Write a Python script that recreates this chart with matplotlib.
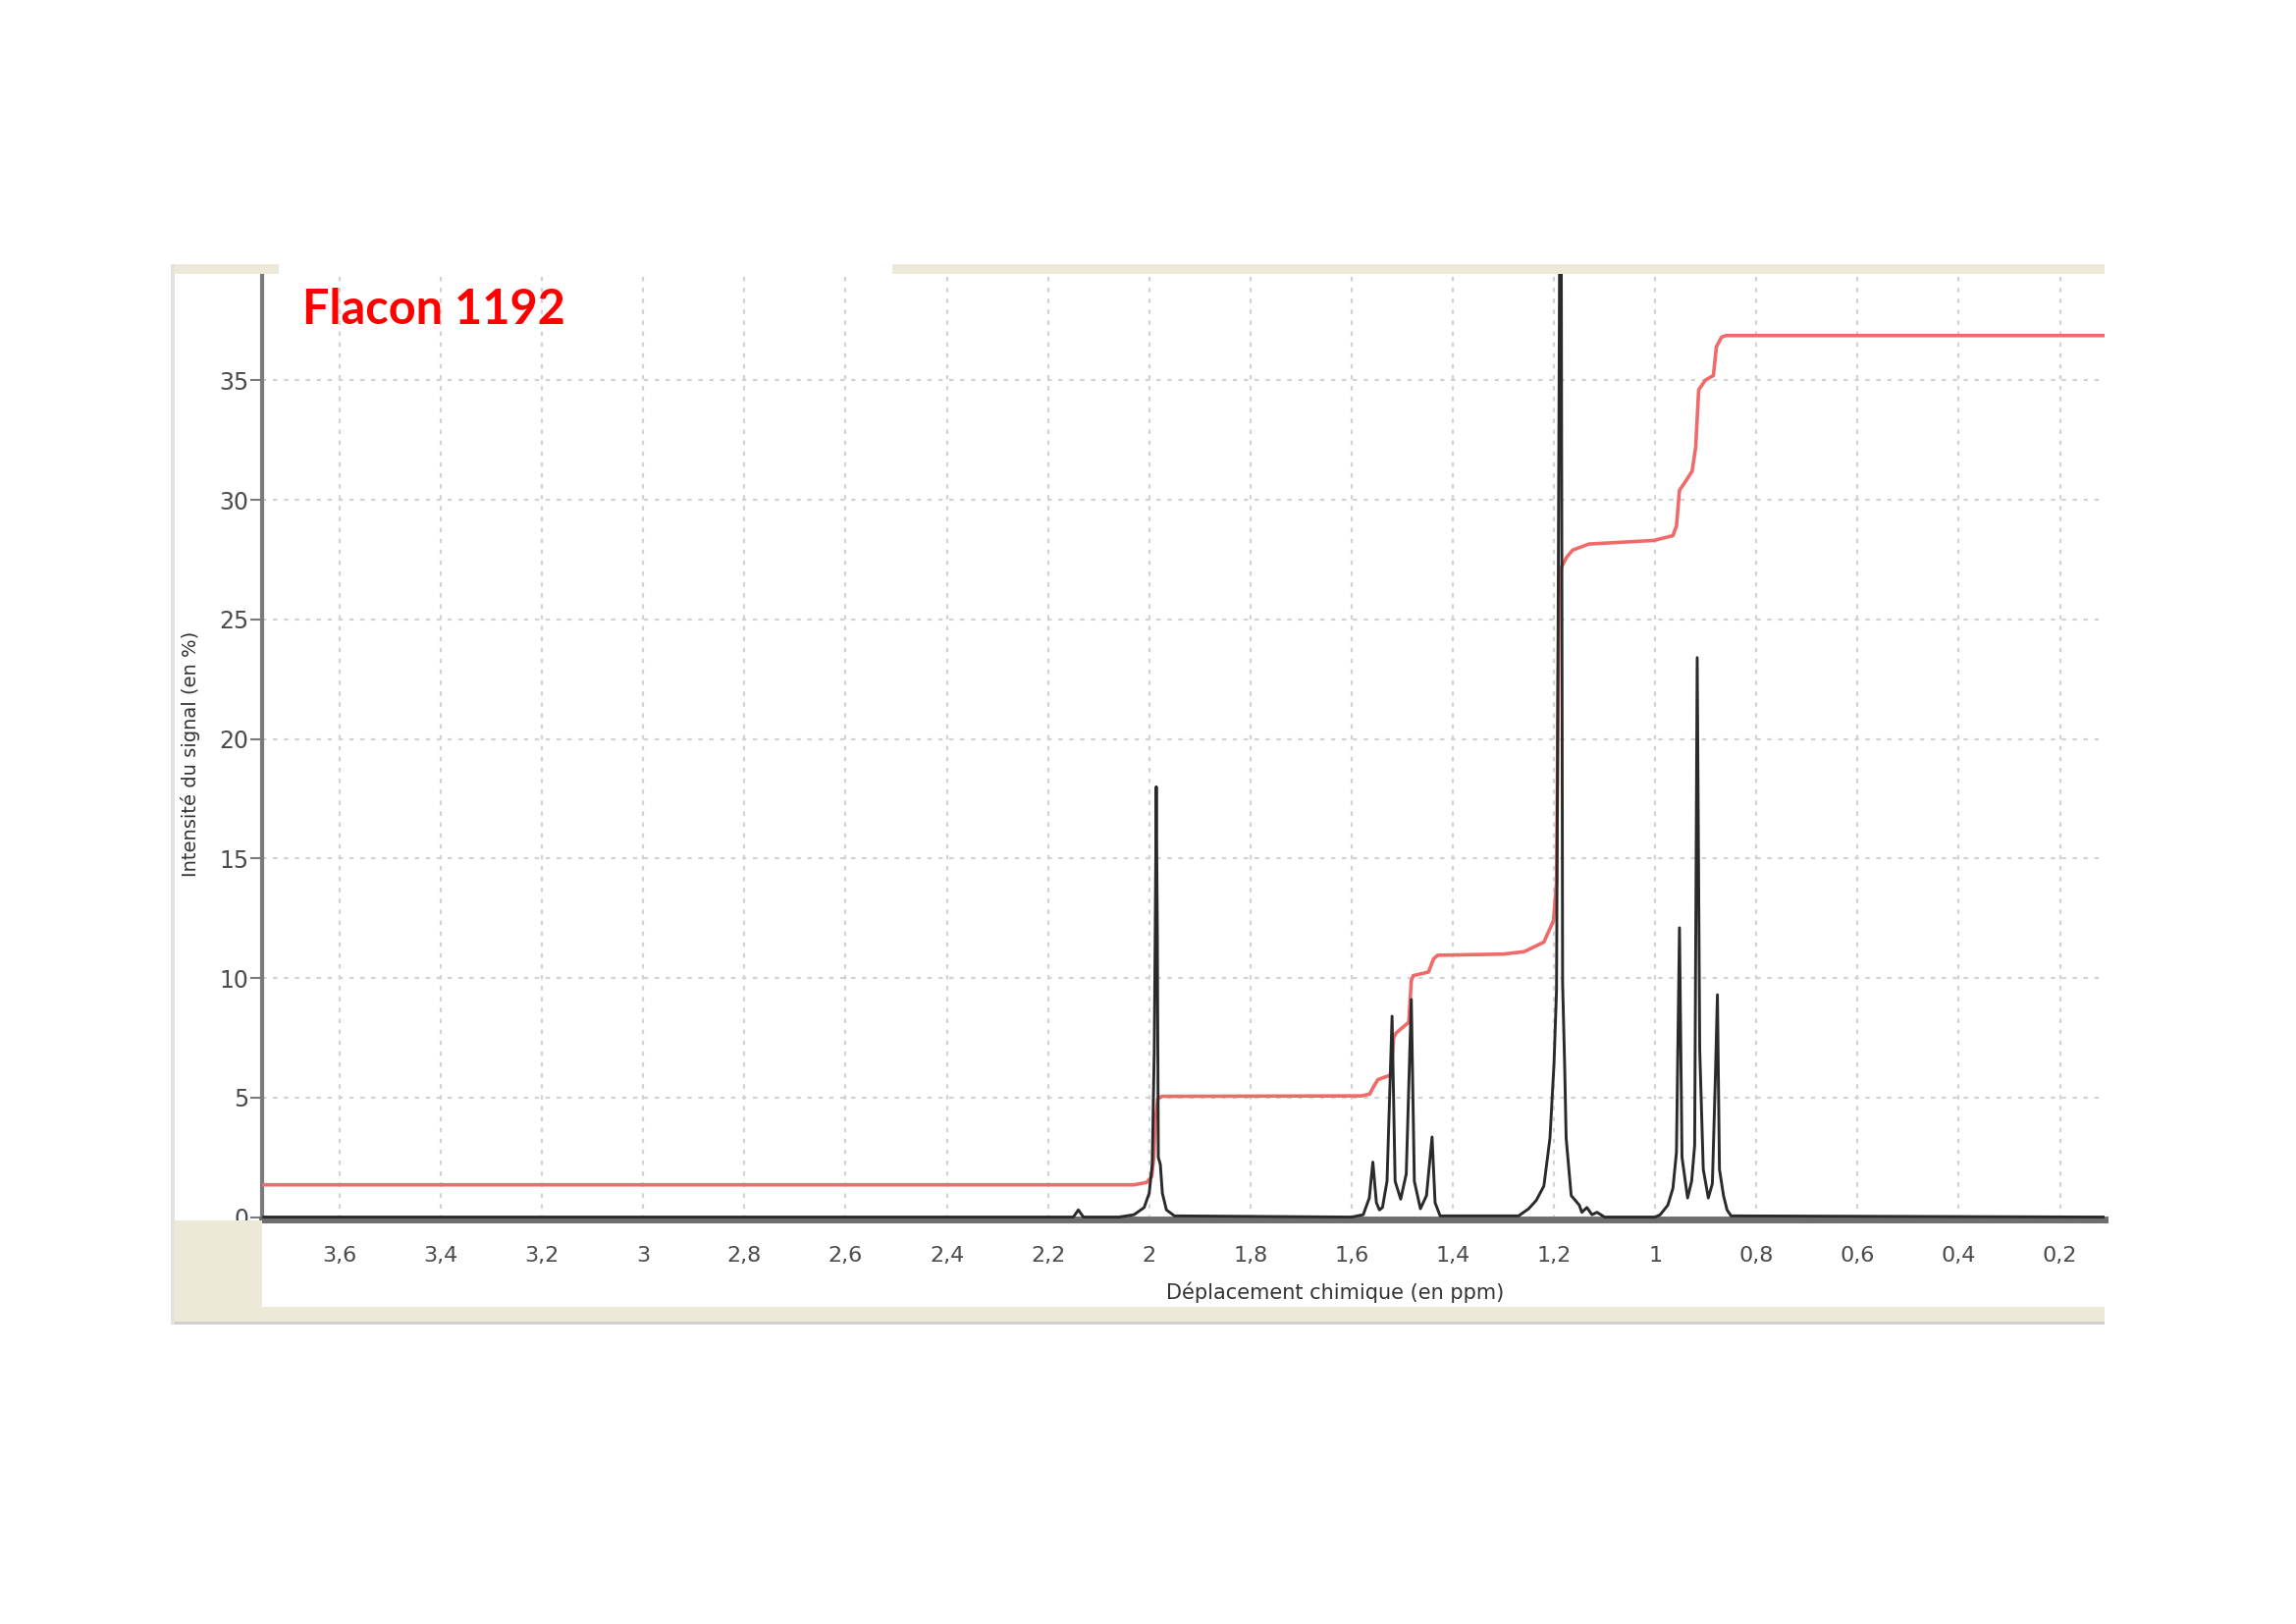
import matplotlib
matplotlib.use("Agg")
import matplotlib.pyplot as plt
from matplotlib.patches import Rectangle

# spectrum (ppm, intensity %)
spec_ppm = [3.75, 2.15, 2.14, 2.13, 2.06, 2.03, 2.01, 2.0, 1.994, 1.990, 1.988, 1.986,
            1.984, 1.982, 1.978, 1.974, 1.966, 1.95,
            1.60, 1.577, 1.565, 1.558, 1.551, 1.545, 1.539, 1.530, 1.520, 1.514,
            1.503, 1.492, 1.482, 1.476, 1.464, 1.452, 1.441, 1.435, 1.425,
            1.27, 1.25, 1.235, 1.220, 1.208, 1.200, 1.195, 1.192, 1.188, 1.186,
            1.183, 1.179, 1.176, 1.166, 1.150, 1.145, 1.135, 1.125, 1.115, 1.10,
            1.0, 0.99, 0.975, 0.965, 0.958, 0.952, 0.947, 0.936, 0.928, 0.922,
            0.917, 0.912, 0.905, 0.895, 0.887, 0.881, 0.877, 0.873, 0.865, 0.858,
            0.85, 0.11]
spec_int = [0, 0, 0.3, 0, 0, 0.1, 0.4, 1.0, 2.2, 7.0, 12.2, 18.0,
            12.0, 2.5, 2.2, 1.0, 0.3, 0.05,
            0, 0.1, 0.8, 2.3, 0.6, 0.3, 0.4, 1.5, 8.4, 1.5,
            0.75, 1.8, 9.1, 1.5, 0.35, 0.9, 3.35, 0.6, 0.05,
            0.05, 0.35, 0.7, 1.3, 3.3, 6.4, 9.5, 24, 45, 45,
            9.8, 6.4, 3.3, 0.9, 0.5, 0.2, 0.4, 0.1, 0.2, 0,
            0, 0.1, 0.5, 1.2, 2.7, 12.1, 2.5, 0.8, 1.5, 3.0,
            23.4, 7.0, 2.0, 0.8, 1.4, 5.9, 9.3, 2.0, 0.9, 0.3,
            0.05, 0]

# integration curve (red)
integ_ppm = [3.75, 2.03, 2.005, 1.995, 1.991, 1.988, 1.983, 1.975, 1.58, 1.564,
             1.558, 1.548, 1.522, 1.517, 1.512, 1.487, 1.482, 1.478, 1.448, 1.438,
             1.43, 1.30, 1.259, 1.22, 1.201, 1.195, 1.190, 1.185, 1.175, 1.163,
             1.131, 1.003, 0.965, 0.958, 0.952, 0.939, 0.927, 0.92, 0.914, 0.901,
             0.885, 0.879, 0.869, 0.86, 0.11]
integ_val = [1.35, 1.35, 1.45, 1.7, 2.5, 4.0, 4.95, 5.05, 5.07, 5.15,
             5.4, 5.75, 5.95, 7.5, 7.7, 8.15, 9.9, 10.1, 10.25, 10.8,
             10.95, 11.0, 11.1, 11.5, 12.4, 14.0, 26.5, 27.2, 27.6, 27.9,
             28.15, 28.3, 28.5, 28.9, 30.4, 30.8, 31.2, 32.2, 34.6, 35.0,
             35.2, 36.4, 36.8, 36.87, 36.87]

x_ticks = [3.6, 3.4, 3.2, 3.0, 2.8, 2.6, 2.4, 2.2, 2.0, 1.8, 1.6, 1.4, 1.2, 1.0,
           0.8, 0.6, 0.4, 0.2]
x_labels = ["3,6", "3,4", "3,2", "3", "2,8", "2,6", "2,4", "2,2", "2", "1,8",
            "1,6", "1,4", "1,2", "1", "0,8", "0,6", "0,4", "0,2"]
y_ticks = [0, 5, 10, 15, 20, 25, 30, 35]

beige = "#ece9d8"
txt_grey = "#4a4a4a"

fig = plt.figure(figsize=(23.39, 16.54), dpi=100)
fig.patch.set_facecolor("white")

# window frame pieces
fig.patches.append(Rectangle((0.0753, 0.8313), 0.046, 0.0062, transform=fig.transFigure,
                             facecolor=beige, edgecolor="none"))
fig.patches.append(Rectangle((0.3887, 0.8313), 0.5279, 0.0062, transform=fig.transFigure,
                             facecolor=beige, edgecolor="none"))
fig.patches.append(Rectangle((0.0753, 0.1858), 0.0389, 0.0626, transform=fig.transFigure,
                             facecolor=beige, edgecolor="none"))
fig.patches.append(Rectangle((0.0753, 0.1858), 0.8413, 0.0095, transform=fig.transFigure,
                             facecolor=beige, edgecolor="none"))
fig.patches.append(Rectangle((0.0753, 0.1845), 0.8413, 0.0016, transform=fig.transFigure,
                             facecolor="#cfcfcf", edgecolor="none"))
fig.patches.append(Rectangle((0.0746, 0.1845), 0.0014, 0.653, transform=fig.transFigure,
                             facecolor="#e4e2da", edgecolor="none"))

ax = fig.add_axes([0.1142, 0.2488, 0.8024, 0.5833])
ax.set_xlim(3.753, 0.112)
ax.set_ylim(-0.12, 39.5)

ax.grid(True, color="#d2d2d2", linestyle=(0, (2, 3)), linewidth=1.6)
ax.set_axisbelow(True)

ax.plot(integ_ppm, integ_val, color="#f06a6a", lw=2.6, zorder=3)
ax.plot(spec_ppm, spec_int, color="#2a2a2a", lw=2.1, zorder=4)

ax.set_xticks(x_ticks)
ax.set_xticklabels(x_labels)
ax.set_yticks(y_ticks)
ax.tick_params(axis="x", length=0, pad=19, labelsize=16, labelcolor=txt_grey)
ax.tick_params(axis="y", length=9, width=1.5, color="#7a7a7a", pad=1,
               labelsize=17, labelcolor=txt_grey)

for side in ["top", "right"]:
    ax.spines[side].set_visible(False)
ax.spines["left"].set_color("#7a7a7a")
ax.spines["left"].set_linewidth(3)
ax.spines["bottom"].set_color("#6e6e6e")
ax.spines["bottom"].set_linewidth(5)

fig.text(0.5817, 0.2039, "Déplacement chimique (en ppm)", ha="center", va="center",
         fontsize=15, color="#333333")
fig.text(0.083, 0.5357, "Intensité du signal (en %)", ha="center", va="center",
         rotation=90, fontsize=14, color="#333333")

fig.text(0.1315, 0.8092, "Flacon 1192", ha="left", va="center", fontsize=35,
         fontweight="bold", color="#ff0000", family=["Lato", "DejaVu Sans"])

fig.savefig("out.png", dpi=100)
